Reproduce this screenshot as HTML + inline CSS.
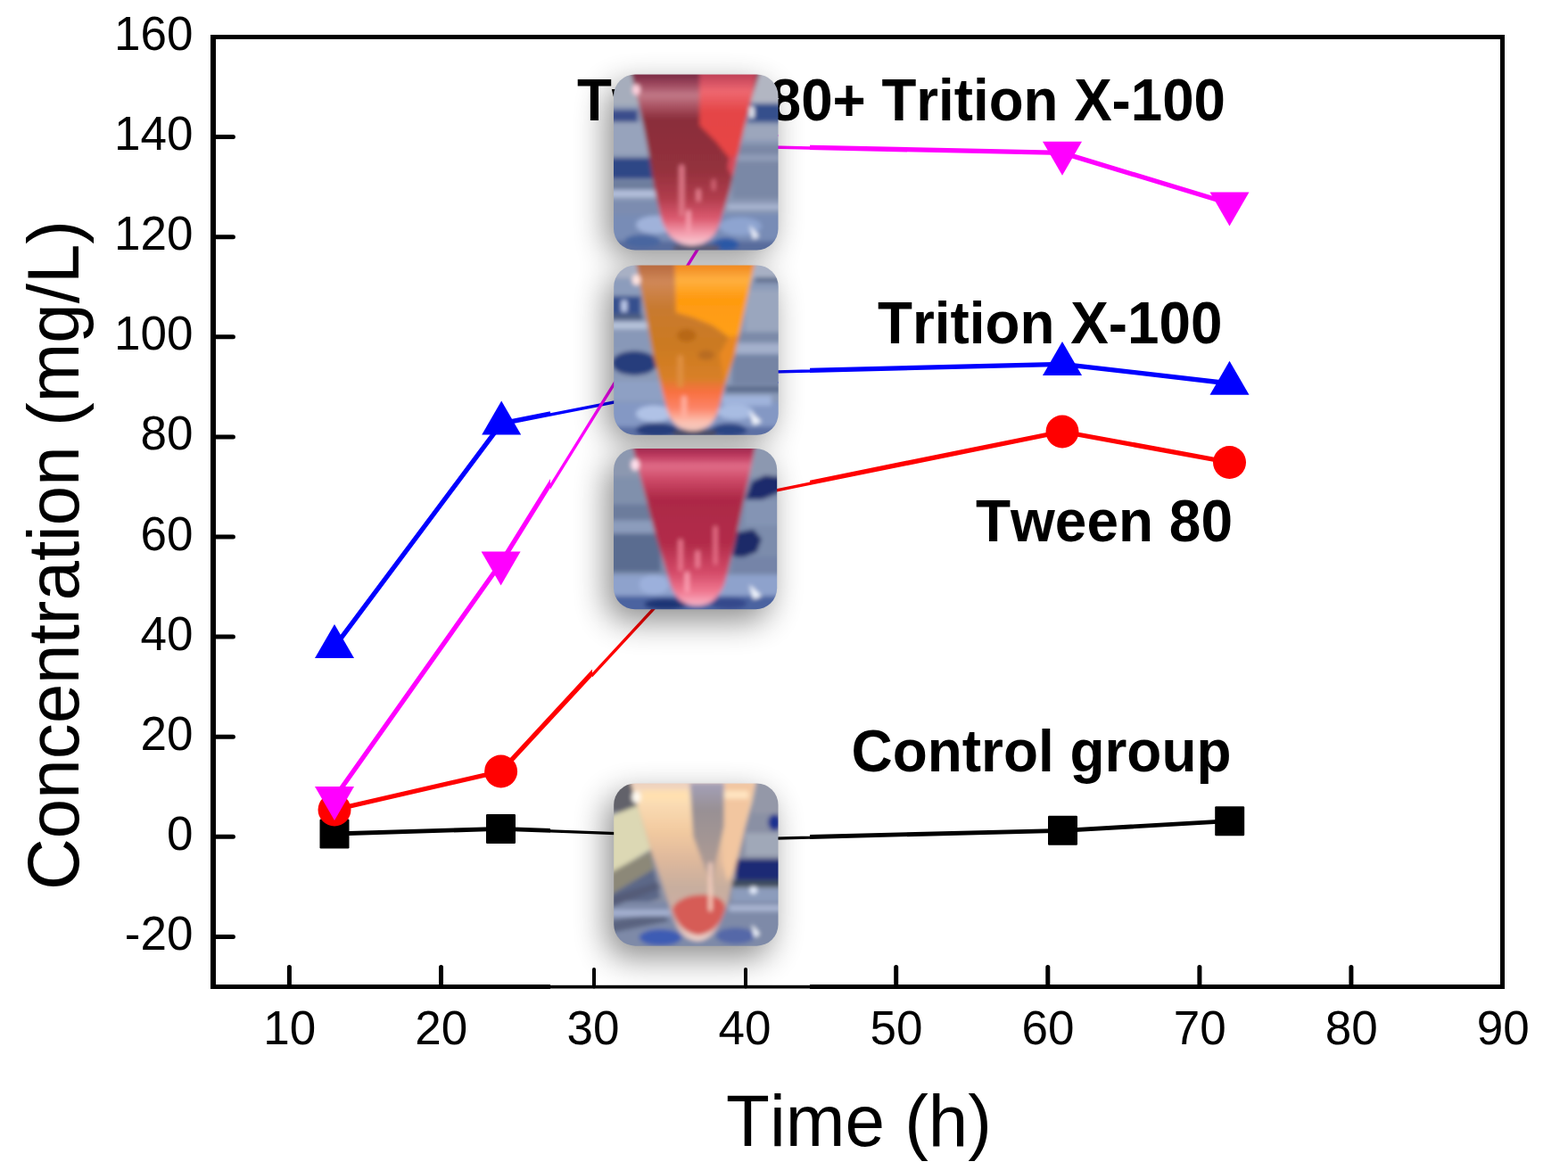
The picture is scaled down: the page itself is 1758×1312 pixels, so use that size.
<!DOCTYPE html>
<html lang="en"><head><meta charset="utf-8"><title>Concentration vs Time</title>
<style>
html,body{margin:0;padding:0;background:#fff;}
body{width:1758px;height:1312px;overflow:hidden;}
svg{display:block;}
text{font-family:"Liberation Sans",Arial,Helvetica,sans-serif;fill:#000;font-kerning:none;}
.tk{font-size:53px;}
.ax{font-size:81px;}
.lb{font-size:67px;font-weight:bold;}
</style></head><body>
<svg width="1758" height="1312" viewBox="0 0 1758 1312">
<defs>
<clipPath id="cin"><rect x="617" y="60" width="291" height="1052"/></clipPath>
<clipPath id="cin2"><rect x="664" y="60" width="244" height="1052"/></clipPath>
<clipPath id="cout2"><path clip-rule="evenodd" d="M0 0H1758V1312H0Z M664 60H908V1112H664Z"/></clipPath>
<clipPath id="cout"><path clip-rule="evenodd" d="M0 0H1758V1312H0Z M617 60H908V1112H617Z"/></clipPath>
<filter id="sh" filterUnits="userSpaceOnUse" x="500" y="0" width="600" height="1312"><feGaussianBlur stdDeviation="18"/></filter>
<filter id="bl" filterUnits="userSpaceOnUse" x="600" y="0" width="400" height="1200"><feGaussianBlur stdDeviation="2.6"/></filter>
<filter id="bl2" filterUnits="userSpaceOnUse" x="600" y="0" width="400" height="1200"><feGaussianBlur stdDeviation="1.1"/></filter>
<clipPath id="cp0"><rect x="688.0" y="83.5" width="184.5" height="197.0" rx="24"/></clipPath>
<clipPath id="cp1"><rect x="688.2" y="297.4" width="184.5" height="190.4" rx="24"/></clipPath>
<clipPath id="cp2"><rect x="688.0" y="503.0" width="183.2" height="180.3" rx="24"/></clipPath>
<clipPath id="cp3"><rect x="688.2" y="878.5" width="184.3" height="182.2" rx="24"/></clipPath>

<linearGradient id="g1body" gradientUnits="userSpaceOnUse" x1="0" y1="130" x2="0" y2="1180">
<stop offset="0" stop-color="#7a2a44"/><stop offset="0.06" stop-color="#a04a60"/><stop offset="0.12" stop-color="#c27a88"/><stop offset="0.19" stop-color="#a85060"/>
<stop offset="0.26" stop-color="#8a2e3a"/><stop offset="0.55" stop-color="#93303c"/><stop offset="0.72" stop-color="#b03c4c"/><stop offset="0.84" stop-color="#dc5a70"/><stop offset="0.93" stop-color="#f4a0b0"/><stop offset="1" stop-color="#f8d0d8"/>
</linearGradient>
<linearGradient id="g1r" gradientUnits="userSpaceOnUse" x1="0" y1="130" x2="0" y2="640">
<stop offset="0" stop-color="#c04058"/><stop offset="0.2" stop-color="#ee6870"/><stop offset="0.45" stop-color="#e44446"/><stop offset="1" stop-color="#e84444"/>
</linearGradient>
<linearGradient id="g2body" gradientUnits="userSpaceOnUse" x1="0" y1="150" x2="0" y2="1170">
<stop offset="0" stop-color="#b86a40"/><stop offset="0.1" stop-color="#d08858"/><stop offset="0.25" stop-color="#c87a30"/>
<stop offset="0.5" stop-color="#cc7a20"/><stop offset="0.68" stop-color="#d88028"/><stop offset="0.76" stop-color="#f87040"/><stop offset="0.86" stop-color="#fc8468"/><stop offset="0.94" stop-color="#fcc0b0"/><stop offset="1" stop-color="#f0c8c0"/>
</linearGradient>
<linearGradient id="g2r" gradientUnits="userSpaceOnUse" x1="0" y1="150" x2="0" y2="600">
<stop offset="0" stop-color="#f08820"/><stop offset="0.2" stop-color="#ffb040"/><stop offset="0.45" stop-color="#ff9a10"/><stop offset="1" stop-color="#ffa018"/>
</linearGradient>
<linearGradient id="g3body" gradientUnits="userSpaceOnUse" x1="0" y1="125" x2="0" y2="1100">
<stop offset="0" stop-color="#a02850"/><stop offset="0.05" stop-color="#c03c60"/><stop offset="0.11" stop-color="#e06c88"/><stop offset="0.2" stop-color="#cc4866"/>
<stop offset="0.32" stop-color="#ac2846"/><stop offset="0.6" stop-color="#b22c4a"/><stop offset="0.78" stop-color="#d44a68"/><stop offset="0.9" stop-color="#f07890"/><stop offset="0.97" stop-color="#f8a8bc"/><stop offset="1" stop-color="#f0c0d0"/>
</linearGradient>
<linearGradient id="g4body" gradientUnits="userSpaceOnUse" x1="0" y1="155" x2="0" y2="1130">
<stop offset="0" stop-color="#ecd0c0"/><stop offset="0.08" stop-color="#fce0b8"/><stop offset="0.3" stop-color="#f2caa0"/>
<stop offset="0.48" stop-color="#deb89c"/><stop offset="0.65" stop-color="#c8ae9e"/><stop offset="0.85" stop-color="#ccaea6"/><stop offset="1" stop-color="#f4d8d0"/>
</linearGradient>
<linearGradient id="g4grey" gradientUnits="userSpaceOnUse" x1="0" y1="155" x2="0" y2="700">
<stop offset="0" stop-color="#a4a0b8"/><stop offset="0.3" stop-color="#989094"/><stop offset="1" stop-color="#b09c94"/>
</linearGradient>
<clipPath id="tc0"><path d="M250 100 L261 128 L300 280 L340 470 L377 667 L402 828 L445 1014 Q470 1095 510 1130 Q560 1176 632 1176 Q705 1176 752 1130 Q790 1095 812 1014 L868 828 L903 667 L950 470 L1000 280 L1046 128 L1052 100 Z"/></clipPath><clipPath id="tc1"><path d="M282 100 L293 148 L392 690 L445 897 L476 1022 Q492 1075 507 1096 Q535 1135 557 1146 Q600 1166 638 1166 Q680 1166 719 1146 Q745 1135 769 1096 Q785 1075 800 1022 L831 897 L898 690 L1015 148 L1026 100 Z"/></clipPath><clipPath id="tc2"><path d="M262 95 L272 127 L402 629 L458 815 L495 940 Q510 990 526 1014 Q548 1050 570 1064 Q615 1090 662 1090 Q710 1090 756 1064 Q780 1050 800 1014 Q822 990 837 940 L868 815 L912 629 L1019 127 L1028 95 Z"/></clipPath><clipPath id="tc3"><path d="M250 130 L295 280 L338 420 L385 580 L440 740 L492 900 C520 1010 560 1118 668 1122 C770 1118 810 1010 850 900 L884 740 L924 580 L960 420 L998 280 L1030 130 Z"/></clipPath></defs>
<rect width="1758" height="1312" fill="#fff"/>
<g clip-path="url(#cout)"><g fill="#000" shape-rendering="crispEdges"><rect x="236" y="39" width="6" height="1070"/><rect x="236" y="39" width="1451" height="5"/><rect x="1682" y="39" width="5" height="1070"/><rect x="236" y="1104" width="1451" height="5"/></g><g stroke="#000" stroke-width="5.0" stroke-linecap="round"><line x1="324.4" y1="1106.5" x2="324.4" y2="1084.5"/><line x1="494.5" y1="1106.5" x2="494.5" y2="1084.5"/><line x1="664.6" y1="1106.5" x2="664.6" y2="1084.5"/><line x1="834.6" y1="1106.5" x2="834.6" y2="1084.5"/><line x1="1004.7" y1="1106.5" x2="1004.7" y2="1084.5"/><line x1="1174.8" y1="1106.5" x2="1174.8" y2="1084.5"/><line x1="1344.9" y1="1106.5" x2="1344.9" y2="1084.5"/><line x1="1514.9" y1="1106.5" x2="1514.9" y2="1084.5"/><line x1="239.4" y1="1050.4" x2="261.4" y2="1050.4"/><line x1="239.4" y1="938.3" x2="261.4" y2="938.3"/><line x1="239.4" y1="826.2" x2="261.4" y2="826.2"/><line x1="239.4" y1="714.1" x2="261.4" y2="714.1"/><line x1="239.4" y1="602.0" x2="261.4" y2="602.0"/><line x1="239.4" y1="489.9" x2="261.4" y2="489.9"/><line x1="239.4" y1="377.8" x2="261.4" y2="377.8"/><line x1="239.4" y1="265.7" x2="261.4" y2="265.7"/><line x1="239.4" y1="153.6" x2="261.4" y2="153.6"/></g><g fill="none" stroke-linejoin="round"><polyline stroke="#000" stroke-width="4.8" points="375.0,935.0 561.5,929.4 850.0,940.0 1191.5,931.3 1378.7,920.7"/><polyline stroke="#00f" stroke-width="5.3" points="375.0,725.4 562.2,474.8 850.0,418.4 851.0,416.8 1191.0,408.3 1378.5,430.0"/><polyline stroke="#f0f" stroke-width="5.3" points="375.0,894.7 561.6,631.2 850.0,167.0 851.0,164.2 1191.0,171.4 1378.5,228.2"/></g></g>
<g clip-path="url(#cout2)"><g fill="none" stroke-linejoin="round"><polyline stroke="#f00" stroke-width="5.3" points="375.0,908.0 561.6,865.0 850.4,553.0 1191.0,484.0 1378.5,518.5"/></g></g>
<g clip-path="url(#cin2)"><g transform="translate(1.8 0.6)"><g fill="none" stroke-linejoin="round"><polyline stroke="#f00" stroke-width="3.4" points="375.0,908.0 561.6,865.0 850.4,553.0 1191.0,484.0 1378.5,518.5"/></g></g></g>
<g clip-path="url(#cin)"><g fill="#000"><rect x="236" y="39" width="1451" height="5"/><rect x="236" y="1104.8" width="1451" height="3.7"/></g><g transform="translate(1.4 0)" stroke="#000" stroke-width="4.0" stroke-linecap="round"><line x1="324.4" y1="1106.5" x2="324.4" y2="1087.0"/><line x1="494.5" y1="1106.5" x2="494.5" y2="1087.0"/><line x1="664.6" y1="1106.5" x2="664.6" y2="1087.0"/><line x1="834.6" y1="1106.5" x2="834.6" y2="1087.0"/><line x1="1004.7" y1="1106.5" x2="1004.7" y2="1087.0"/><line x1="1174.8" y1="1106.5" x2="1174.8" y2="1087.0"/><line x1="1344.9" y1="1106.5" x2="1344.9" y2="1087.0"/><line x1="1514.9" y1="1106.5" x2="1514.9" y2="1087.0"/><line x1="239.4" y1="1050.4" x2="258.9" y2="1050.4"/><line x1="239.4" y1="938.3" x2="258.9" y2="938.3"/><line x1="239.4" y1="826.2" x2="258.9" y2="826.2"/><line x1="239.4" y1="714.1" x2="258.9" y2="714.1"/><line x1="239.4" y1="602.0" x2="258.9" y2="602.0"/><line x1="239.4" y1="489.9" x2="258.9" y2="489.9"/><line x1="239.4" y1="377.8" x2="258.9" y2="377.8"/><line x1="239.4" y1="265.7" x2="258.9" y2="265.7"/><line x1="239.4" y1="153.6" x2="258.9" y2="153.6"/></g><g transform="translate(1.8 0.6)"><g fill="none" stroke-linejoin="round"><polyline stroke="#000" stroke-width="3.2" points="375.0,935.0 561.5,929.4 850.0,940.0 1191.5,931.3 1378.7,920.7"/><polyline stroke="#00f" stroke-width="3.4" points="375.0,725.4 562.2,474.8 850.0,418.4 851.0,416.8 1191.0,408.3 1378.5,430.0"/><polyline stroke="#f0f" stroke-width="3.4" points="375.0,894.7 561.6,631.2 850.0,167.0 851.0,164.2 1191.0,171.4 1378.5,228.2"/></g></g></g>
<g filter="url(#sh)" fill="#000" opacity="0.45"><rect x="680.0" y="96.5" width="184.5" height="191.0" rx="24"/><rect x="680.2" y="310.4" width="184.5" height="184.4" rx="24"/><rect x="680.0" y="516.0" width="183.2" height="180.3" rx="24"/><rect x="680.2" y="891.5" width="184.3" height="182.2" rx="24"/></g>
<g fill="#000"><rect x="358.5" y="918.5" width="33" height="33" rx="1.2"/><rect x="545.0" y="912.9" width="33" height="33" rx="1.2"/><rect x="833.5" y="923.5" width="33" height="33" rx="1.2"/><rect x="1175.0" y="914.8" width="33" height="33" rx="1.2"/><rect x="1362.2" y="904.2" width="33" height="33" rx="1.2"/></g><g fill="#f00"><circle cx="375.0" cy="908.0" r="18.5"/><circle cx="561.6" cy="865.0" r="18.5"/><circle cx="850.4" cy="553.0" r="18.5"/><circle cx="1191.0" cy="484.0" r="18.5"/><circle cx="1378.5" cy="518.5" r="18.5"/></g><g fill="#00f"><polygon points="375.0,700.1 353.0,738.1 397.0,738.1"/><polygon points="562.2,449.5 540.2,487.5 584.2,487.5"/><polygon points="850.0,393.1 828.0,431.1 872.0,431.1"/><polygon points="851.0,391.5 829.0,429.5 873.0,429.5"/><polygon points="1191.0,383.0 1169.0,421.0 1213.0,421.0"/><polygon points="1378.5,404.7 1356.5,442.7 1400.5,442.7"/></g><g fill="#f0f"><polygon points="375.0,920.0 353.0,882.0 397.0,882.0"/><polygon points="561.6,656.5 539.6,618.5 583.6,618.5"/><polygon points="850.0,192.3 828.0,154.3 872.0,154.3"/><polygon points="851.0,189.5 829.0,151.5 873.0,151.5"/><polygon points="1191.0,196.7 1169.0,158.7 1213.0,158.7"/><polygon points="1378.5,253.5 1356.5,215.5 1400.5,215.5"/></g>
<g class="tk" text-anchor="end"><text x="216.4" y="1064.9">-20</text><text x="216.4" y="952.8">0</text><text x="216.4" y="840.7">20</text><text x="216.4" y="728.6">40</text><text x="216.4" y="616.5">60</text><text x="216.4" y="504.4">80</text><text x="216.4" y="392.3">100</text><text x="216.4" y="280.2">120</text><text x="216.4" y="168.1">140</text><text x="216.4" y="56.0">160</text></g>
<g class="tk" text-anchor="middle"><text x="324.7" y="1170.9">10</text><text x="494.8" y="1170.9">20</text><text x="664.9" y="1170.9">30</text><text x="834.9" y="1170.9">40</text><text x="1005.0" y="1170.9">50</text><text x="1175.1" y="1170.9">60</text><text x="1345.2" y="1170.9">70</text><text x="1515.2" y="1170.9">80</text><text x="1685.3" y="1170.9">90</text></g>
<text class="ax" x="814" y="1285.3" textLength="298" lengthAdjust="spacingAndGlyphs">Time (h)</text>
<text class="ax" transform="translate(88 998) rotate(-90)" textLength="751" lengthAdjust="spacingAndGlyphs">Concentration (mg/L)</text>
<text class="lb" x="647" y="134.9" textLength="727" lengthAdjust="spacingAndGlyphs">Tween 80+ Trition X-100</text>
<text class="lb" x="984" y="384.9" textLength="386.5" lengthAdjust="spacingAndGlyphs">Trition X-100</text>
<text class="lb" x="1094" y="606.9" textLength="288" lengthAdjust="spacingAndGlyphs">Tween 80</text>
<text class="lb" x="954.5" y="865.3" textLength="426" lengthAdjust="spacingAndGlyphs">Control group</text>
<g clip-path="url(#cp0)"><g filter="url(#bl)"><g transform="translate(660 60) scale(0.18292)"><rect x="0" y="0" width="1320" height="1320" fill="#8b99b5"/><rect x="100" y="100" width="260" height="220" fill="#a6adbc"/><rect x="950" y="100" width="260" height="200" fill="#b2b6c2"/><rect x="100" y="345" width="200" height="90" fill="#3a4e8c"/><rect x="980" y="310" width="220" height="110" fill="#36508c"/><rect x="985" y="325" width="30" height="70" fill="#e8ecf4"/><rect x="950" y="440" width="250" height="90" fill="#9ca6bc"/><rect x="100" y="420" width="260" height="200" fill="#97a3bc"/><rect x="100" y="640" width="300" height="130" fill="#2e4686"/><rect x="100" y="780" width="300" height="50" fill="#6c7c9c"/><rect x="100" y="840" width="320" height="40" fill="#b4c0dc"/><rect x="880" y="560" width="320" height="330" fill="#7a88a6"/><rect x="880" y="620" width="320" height="40" fill="#909cb8"/><rect x="850" y="925" width="350" height="30" fill="#aab6d2"/><rect x="100" y="980" width="1100" height="260" fill="#788cb6"/><rect x="100" y="900" width="330" height="90" fill="#7c8cb0"/><rect x="100" y="1150" width="1100" height="90" fill="#586c9c"/><ellipse cx="410" cy="1050" rx="120" ry="55" fill="#a0b2da"/><ellipse cx="930" cy="1060" rx="130" ry="55" fill="#8ea4d0"/><ellipse cx="840" cy="1170" rx="80" ry="40" fill="#2c58a6"/><ellipse cx="330" cy="1150" rx="110" ry="40" fill="#4a66a0"/><polygon points="985,1050 1045,1120 1010,1140" fill="#eef2fc"/><rect x="520" y="1175" width="280" height="40" fill="#5c5870"/><g clip-path="url(#tc0)"><path d="M250 100 L261 128 L300 280 L340 470 L377 667 L402 828 L445 1014 Q470 1095 510 1130 Q560 1176 632 1176 Q705 1176 752 1130 Q790 1095 812 1014 L868 828 L903 667 L950 470 L1000 280 L1046 128 L1052 100 Z" fill="url(#g1body)"/><polygon points="680,100 1035,100 1000,250 960,420 915,620 860,640 780,540 680,440" fill="url(#g1r)"/><polygon points="860,640 915,620 880,760 850,700" fill="#d84858"/><rect x="555" y="680" width="30" height="320" rx="15" fill="#e07888"/><rect x="660" y="830" width="26" height="80" rx="13" fill="#e88090"/><rect x="755" y="770" width="22" height="70" rx="11" fill="#d86878"/><rect x="600" y="960" width="24" height="150" rx="12" fill="#f8a0b0"/></g><ellipse cx="292" cy="222" rx="24" ry="34" fill="#ffd0dc"/></g></g></g>
<g clip-path="url(#cp1)"><g filter="url(#bl)"><g transform="translate(660 270) scale(0.18292)"><rect x="0" y="0" width="1320" height="1320" fill="#8a9ab8"/><rect x="100" y="120" width="1150" height="110" fill="#a8b0c4"/><rect x="100" y="240" width="260" height="90" fill="#8c9cbc"/><rect x="100" y="340" width="220" height="110" fill="#34508e"/><rect x="200" y="365" width="35" height="70" fill="#c0ccec"/><rect x="100" y="450" width="230" height="35" fill="#4c5c80"/><rect x="100" y="500" width="260" height="40" fill="#b8c4dc"/><rect x="100" y="560" width="280" height="100" fill="#8898b8"/><ellipse cx="280" cy="750" rx="140" ry="75" fill="#263e7c"/><rect x="1020" y="225" width="200" height="30" fill="#5c6c8c"/><ellipse cx="1150" cy="395" rx="30" ry="40" fill="#2c3474"/><rect x="960" y="300" width="260" height="260" fill="#9aa6be"/><rect x="900" y="560" width="320" height="60" fill="#7c8aa8"/><rect x="900" y="630" width="320" height="60" fill="#a4b0cc"/><rect x="880" y="700" width="340" height="180" fill="#7484a4"/><rect x="840" y="890" width="380" height="40" fill="#5c6c8c"/><rect x="100" y="860" width="360" height="120" fill="#8ea0c4"/><rect x="100" y="990" width="1150" height="250" fill="#8498c4"/><rect x="820" y="950" width="300" height="60" fill="#a0b4dc"/><ellipse cx="400" cy="1060" rx="110" ry="50" fill="#b0c2e6"/><ellipse cx="900" cy="1050" rx="110" ry="45" fill="#a8bce2"/><rect x="100" y="1140" width="1150" height="100" fill="#5c70a4"/><ellipse cx="420" cy="1160" rx="130" ry="45" fill="#283c7c"/><ellipse cx="860" cy="1160" rx="110" ry="42" fill="#2c4484"/><polygon points="985,1040 1060,1110 1010,1130" fill="#f4f8ff"/><rect x="520" y="1160" width="260" height="40" fill="#484860"/><g clip-path="url(#tc1)"><path d="M282 100 L293 148 L392 690 L445 897 L476 1022 Q492 1075 507 1096 Q535 1135 557 1146 Q600 1166 638 1166 Q680 1166 719 1146 Q745 1135 769 1096 Q785 1075 800 1022 L831 897 L898 690 L1015 148 L1026 100 Z" fill="url(#g2body)"/><polygon points="525,120 1030,120 1000,260 960,430 925,580 860,590 760,520 640,470 535,440" fill="url(#g2r)"/><polygon points="860,590 925,580 880,780 840,900 800,700" fill="#e88820"/><rect x="545" y="700" width="34" height="200" rx="15" fill="#e09040"/><ellipse cx="600" cy="580" rx="60" ry="40" fill="#b86818"/><ellipse cx="720" cy="700" rx="50" ry="30" fill="#b86c20"/><rect x="570" y="950" width="30" height="150" rx="15" fill="#ffb0a0"/></g><ellipse cx="292" cy="240" rx="26" ry="34" fill="#ffe4e0"/></g></g></g>
<g clip-path="url(#cp2)"><g filter="url(#bl)"><g transform="translate(660 480) scale(0.18292)"><rect x="0" y="0" width="1320" height="1320" fill="#7c8cac"/><rect x="100" y="100" width="1150" height="200" fill="#8c98b0"/><rect x="100" y="300" width="280" height="160" fill="#8090ac"/><rect x="100" y="470" width="300" height="90" fill="#6c7c9c"/><rect x="100" y="570" width="320" height="70" fill="#8c9cbc"/><rect x="100" y="650" width="340" height="230" fill="#5a6c90"/><polygon points="960,440 1000,330 1080,290 1180,300 1180,390 1060,440" fill="#1c2c6c"/><rect x="960" y="440" width="260" height="160" fill="#8494b4"/><polygon points="880,780 910,640 1010,620 1060,680 1030,760 930,800" fill="#1c2c68"/><rect x="880" y="790" width="340" height="100" fill="#7484a8"/><rect x="100" y="900" width="1150" height="140" fill="#8ea2cc"/><ellipse cx="400" cy="960" rx="90" ry="60" fill="#9cb0dc"/><rect x="100" y="1030" width="1150" height="120" fill="#4c64a0"/><ellipse cx="470" cy="1080" rx="130" ry="35" fill="#1c3474"/><ellipse cx="860" cy="1075" rx="110" ry="35" fill="#34488c"/><polygon points="985,960 1060,1030 1010,1050" fill="#f4f8ff"/><g clip-path="url(#tc2)"><path d="M262 95 L272 127 L402 629 L458 815 L495 940 Q510 990 526 1014 Q548 1050 570 1064 Q615 1090 662 1090 Q710 1090 756 1064 Q780 1050 800 1014 Q822 990 837 940 L868 815 L912 629 L1019 127 L1028 95 Z" fill="url(#g3body)"/><rect x="550" y="680" width="26" height="200" rx="13" fill="#ec7890"/><rect x="655" y="750" width="26" height="110" rx="13" fill="#f08098"/><rect x="765" y="600" width="24" height="240" rx="12" fill="#e87088"/><rect x="590" y="880" width="26" height="130" rx="13" fill="#fca0b4"/></g><ellipse cx="285" cy="225" rx="26" ry="36" fill="#ffe0ec"/></g></g></g>
<g clip-path="url(#cp3)"><g filter="url(#bl)"><g transform="translate(660 850) scale(0.18292)"><rect x="0" y="0" width="1320" height="1320" fill="#8a90a4"/><rect x="100" y="100" width="300" height="230" fill="#62626a"/><polygon points="100,370 300,290 380,560 100,730" fill="#dcd8b4"/><polygon points="100,720 380,570 400,680 100,860" fill="#8c8878"/><polygon points="100,860 400,680 440,860 100,960" fill="#5c6888"/><rect x="1000" y="100" width="240" height="240" fill="#9498a8"/><ellipse cx="1140" cy="395" rx="40" ry="50" fill="#1c3090"/><rect x="960" y="460" width="260" height="140" fill="#a0a8b8"/><rect x="900" y="620" width="320" height="130" fill="#1c2c74"/><rect x="880" y="750" width="340" height="40" fill="#3c4c5c"/><rect x="880" y="800" width="340" height="80" fill="#8c9cbc"/><ellipse cx="1010" cy="810" rx="22" ry="22" fill="#e8f0ff"/><rect x="100" y="880" width="1150" height="300" fill="#7e8aa8"/><polygon points="100,860 420,760 440,800 100,930" fill="#545c78"/><polygon points="100,1000 470,950 490,1000 100,1080" fill="#5a6480"/><rect x="100" y="930" width="400" height="40" fill="#a4b0d0"/><rect x="860" y="900" width="360" height="40" fill="#a8b4d0"/><ellipse cx="440" cy="1100" rx="130" ry="50" fill="#3c5cb4"/><ellipse cx="900" cy="1090" rx="120" ry="50" fill="#5468a8"/><polygon points="1000,1020 1050,1080 1015,1100" fill="#f4f8ff"/><g clip-path="url(#tc3)"><path d="M250 130 L295 280 L338 420 L385 580 L440 740 L492 900 C520 1010 560 1118 668 1122 C770 1118 810 1010 850 900 L884 740 L924 580 L960 420 L998 280 L1030 130 Z" fill="url(#g4body)"/><polygon points="620,150 830,150 830,420 780,640 760,800 700,640 640,480" fill="url(#g4grey)"/><polygon points="835,150 1020,150 985,300 950,440 915,580 885,700 850,760 820,640 830,420" fill="#f2c6a0"/><rect x="330" y="200" width="280" height="60" fill="#ffe0b0"/><rect x="830" y="200" width="150" height="50" fill="#ffe4c0"/><path d="M512 925 C545 855 640 832 725 840 C810 850 840 885 836 925 C812 1015 765 1070 675 1085 C595 1078 535 1015 512 925 Z" fill="#d65c56"/><rect x="735" y="640" width="22" height="300" rx="10" fill="#f8d0c0"/></g><ellipse cx="292" cy="240" rx="28" ry="36" fill="#fffaf0"/></g></g></g>
</svg>
</body></html>
